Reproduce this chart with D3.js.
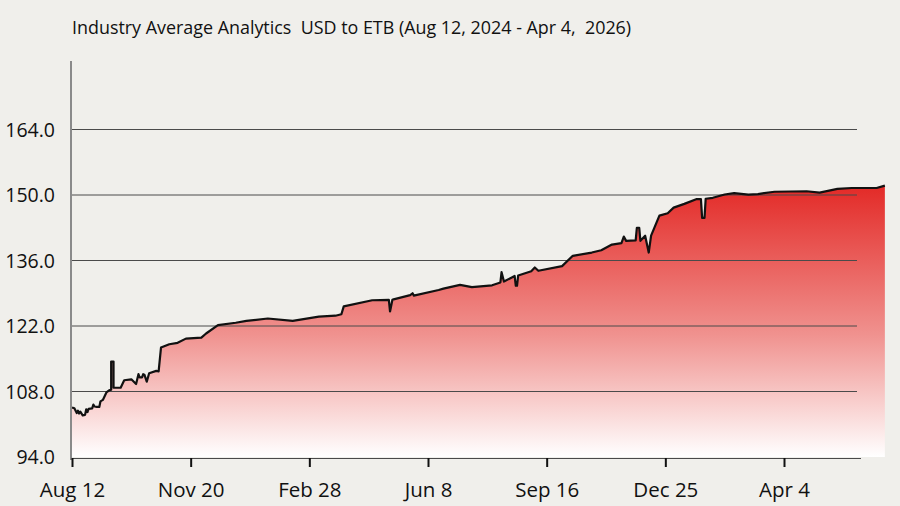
<!DOCTYPE html>
<html>
<head>
<meta charset="utf-8">
<script src="https://cdn.jsdelivr.net/npm/d3@7"></script>
<style>
  html, body { margin: 0; padding: 0; background: #f0efeb; }
  svg { display: block; font-family: "Open Sans", "Noto Sans", sans-serif; }
</style>
</head>
<body>
<div id="chart"></div>
<script>
// series start, every point is "days since start"
const startDate = new Date(2024, 7, 12);
const dayOffsets = [0, 2, 4, 5, 6, 7, 9, 11, 12, 13, 14, 17, 18, 19, 21, 23, 24, 26, 29, 31,
    33, 33, 35, 35, 41, 44, 50, 54, 56, 57, 59, 60, 61, 63, 65, 71, 73, 75, 82, 89,
    96, 109, 113, 123, 138, 147, 165, 186, 208, 222, 227, 229, 253, 267, 268, 270, 271, 285, 287, 288,
    309, 313, 327, 337, 354, 361, 362, 364, 373, 374, 375, 376, 387, 390, 393, 413, 422, 438, 446, 455,
    463, 465, 467, 475, 476, 478, 479, 483, 486, 488, 495, 502, 507, 516, 526, 530, 531, 533, 534, 540,
    550, 558, 570, 578, 592, 619, 630, 645, 657, 678, 685];
const rates = [104.6, 104.4, 103.4, 103.9, 103.3, 103.7, 102.9, 103.0, 104.2, 103.6, 104.3, 104.4, 105.2, 104.8, 104.7, 104.7, 105.9, 106.2, 107.8, 108.2,
    108.4, 114.4, 114.4, 108.8, 108.8, 110.4, 110.6, 109.6, 111.7, 111.0, 111.0, 111.7, 111.6, 110.1, 111.9, 112.4, 112.3, 117.4, 118.1, 118.4,
    119.3, 119.5, 120.4, 122.2, 122.7, 123.1, 123.6, 123.1, 124.0, 124.2, 124.5, 126.2, 127.5, 127.6, 125.1, 127.6, 127.7, 128.6, 129.0, 128.5,
    129.7, 130.0, 130.8, 130.3, 130.7, 131.3, 133.5, 131.5, 132.7, 130.6, 130.6, 132.8, 133.7, 134.5, 133.8, 134.8, 137.0, 137.7, 138.2, 139.4,
    139.7, 141.1, 140.2, 140.3, 143.0, 143.0, 140.2, 141.3, 137.7, 141.3, 145.6, 146.1, 147.3, 148.1, 149.1, 149.1, 145.1, 145.1, 149.2, 149.4,
    150.1, 150.4, 150.1, 150.2, 150.7, 150.8, 150.5, 151.3, 151.5, 151.5, 152.0];

const xTickDays = [0, 100, 200, 300, 400, 500, 600];
const yTickValues = [94, 108, 122, 136, 150, 164];
const titleText = "Industry Average Analytics  USD to ETB (Aug 12, 2024 - Apr 4,  2026)";

function drawChart() {
    const width = 900, height = 506;
    const svg = d3.select("#chart")
        .append("svg")
        .attr("width", width)
        .attr("height", height);

    const data = dayOffsets.map((d, i) => ({
        date: d3.timeDay.offset(startDate, d),
        value: rates[i]
    }));

    // scales
    const x = d3.scaleTime()
        .domain([startDate, d3.timeDay.offset(startDate, 600)])
        .range([72, 784]);
    const y = d3.scaleLinear()
        .domain([94, 164])
        .range([457, 129.5]);

    // gradient for the area
    const defs = svg.append("defs");
    const grad = defs.append("linearGradient")
        .attr("id", "fillGrad")
        .attr("gradientUnits", "userSpaceOnUse")
        .attr("x1", 0).attr("x2", 0)
        .attr("y1", y(152)).attr("y2", y(94));
    grad.append("stop").attr("offset", "0%").attr("stop-color", "#e32a27");
    grad.append("stop").attr("offset", "55%").attr("stop-color", "#f0928f");
    grad.append("stop").attr("offset", "100%").attr("stop-color", "#ffffff");

    // area
    const area = d3.area()
        .x(d => x(d.date))
        .y0(y(94))
        .y1(d => y(d.value));
    svg.append("path")
        .datum(data)
        .attr("fill", "url(#fillGrad)")
        .attr("d", area);

    // grid lines
    svg.append("g")
        .selectAll("line")
        .data(yTickValues.slice(1))
        .join("line")
        .attr("x1", 72)
        .attr("x2", 857)
        .attr("y1", d => y(d))
        .attr("y2", d => y(d))
        .attr("stroke", "#4a4a4a")
        .attr("stroke-width", 1);

    // baseline
    svg.append("line")
        .attr("x1", 72).attr("x2", 861)
        .attr("y1", 458.5).attr("y2", 458.5)
        .attr("stroke", "#4a4a4a")
        .attr("stroke-width", 1);

    // line
    const line = d3.line()
        .x(d => x(d.date))
        .y(d => y(d.value));
    svg.append("path")
        .datum(data)
        .attr("fill", "none")
        .attr("stroke", "#111")
        .attr("stroke-width", 2.2)
        .attr("stroke-linejoin", "round")
        .attr("d", line);

    // y axis line
    svg.append("line")
        .attr("x1", 71).attr("x2", 71)
        .attr("y1", 61).attr("y2", 460)
        .attr("stroke", "#8a8a8a")
        .attr("stroke-width", 2);

    // y labels
    svg.append("g")
        .selectAll("text")
        .data(yTickValues)
        .join("text")
        .attr("x", 55)
        .attr("y", d => y(d))
        .attr("dy", "0.36em")
        .attr("text-anchor", "end")
        .attr("font-size", 19.5)
        .attr("fill", "#111")
        .text(d => d3.format(".1f")(d));

    // x axis
    const xAxis = d3.axisBottom(x)
        .tickValues(xTickDays.map(d => d3.timeDay.offset(startDate, d)))
        .tickFormat(d3.timeFormat("%b %-d"))
        .tickSize(9)
        .tickPadding(15);
    const gx = svg.append("g")
        .attr("transform", "translate(0,458)")
        .call(xAxis);
    gx.select(".domain").remove();
    gx.selectAll(".tick line").attr("stroke", "#111").attr("stroke-width", 2);
    gx.selectAll(".tick text")
        .attr("font-size", 20.5)
        .attr("font-family", "Open Sans, sans-serif")
        .attr("fill", "#111");

    // title
    svg.append("text")
        .attr("x", 72)
        .attr("y", 34)
        .attr("font-size", 17.9)
        .attr("fill", "#111")
        .style("white-space", "pre")
        .text(titleText);
}

drawChart();
</script>
</body>
</html>
